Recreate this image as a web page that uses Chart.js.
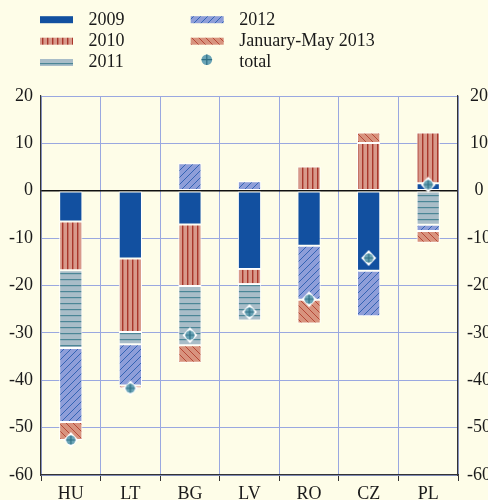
<!DOCTYPE html>
<html>
<head>
<meta charset="utf-8">
<script src="https://cdn.jsdelivr.net/npm/chart.js@4/dist/chart.umd.min.js"></script>
<style>
html,body{margin:0;padding:0;background:#fefde8;}
#wrap{width:488px;height:500px;position:relative;}
</style>
</head>
<body>
<div id="wrap"><canvas id="c" width="488" height="500"></canvas></div>
<script>
const categories = ['HU','LT','BG','LV','RO','CZ','PL'];
const v2009 = [-6.5, -14.3, -7.1, -16.5, -11.6, -16.9, 1.6];
const v2010 = [-10.3, -15.5, -13.0, -3.2, 5.1, 10.1, 10.7];
const v2011 = [-16.4, -2.6, -12.5, -7.7, null, null, -7.2];
const v2012 = [-15.6, -8.7, 5.8, 2.0, -11.4, -9.6, -1.3];
const v2013 = [-3.8, -0.6, -3.7, null, -5.0, 2.2, -2.5];
const vTotal = [-52.6, -41.7, -30.5, -25.6, -22.9, -14.2, 1.3];
const seriesNames = ['2009','2010','2011','2012','January-May 2013','total'];
const yTicks = [20,10,0,-10,-20,-30,-40,-50,-60];

const FONT = "'Liberation Serif', 'DejaVu Serif', serif";

function tile(w,h,draw){
  const c=document.createElement('canvas');c.width=w;c.height=h;
  const g=c.getContext('2d');draw(g,w,h);
  return document.createElement('canvas').getContext('2d').createPattern(c,'repeat');
}
const C2009 = '#1250a0';
const P2010 = tile(5,5,(g,w,h)=>{g.fillStyle='#d8998b';g.fillRect(0,0,w,h);g.fillStyle='#a9362b';g.fillRect(2,0,1.4,h);});
const P2011 = tile(6,6,(g,w,h)=>{g.fillStyle='#a9bdc8';g.fillRect(0,0,w,h);g.fillStyle='#4b8696';g.fillRect(0,3,w,1.2);});
const P2012 = tile(7,7,(g,w,h)=>{g.fillStyle='#8e9ed9';g.fillRect(0,0,w,h);g.strokeStyle='#2a5db0';g.lineWidth=0.9;
  g.beginPath();g.moveTo(-1,8);g.lineTo(8,-1);g.stroke();});
const P2013 = tile(7,7,(g,w,h)=>{g.fillStyle='#d8937e';g.fillRect(0,0,w,h);g.strokeStyle='#b2402f';g.lineWidth=0.9;
  g.beginPath();g.moveTo(-1,-1);g.lineTo(8,8);g.stroke();});

function drawTotalIcon(g,cx,cy,r,withDiamond){
  if(withDiamond){
    g.fillStyle='#ffffff';
    g.beginPath();g.moveTo(cx,cy-8);g.lineTo(cx+7.5,cy);g.lineTo(cx,cy+8);g.lineTo(cx-7.5,cy);g.closePath();g.fill();
  }
  g.fillStyle='#6aa4b6';
  g.beginPath();g.arc(cx,cy,r,0,Math.PI*2);g.fill();
  g.strokeStyle='#2f6f84';g.lineWidth=1.2;
  g.beginPath();g.moveTo(cx-r,cy);g.lineTo(cx+r,cy);g.moveTo(cx,cy-r);g.lineTo(cx,cy+r);g.stroke();
}
const marker = document.createElement('canvas');marker.width=18;marker.height=18;
drawTotalIcon(marker.getContext('2d'),9,9,4.6,true);

const legendPlugin = {
  id:'customLegend',
  afterDraw(chart){
    const g=chart.ctx;g.save();
    const items=[
      {x:40,y:19.7,fill:C2009,label:seriesNames[0]},
      {x:40,y:41.2,fill:P2010,label:seriesNames[1]},
      {x:40,y:62.5,fill:P2011,label:seriesNames[2]},
      {x:190.7,y:19.7,fill:P2012,label:seriesNames[3]},
      {x:190.7,y:41.2,fill:P2013,label:seriesNames[4]},
      {x:190.7,y:62.5,fill:null,label:seriesNames[5]}
    ];
    g.font='18px '+FONT;g.textBaseline='alphabetic';g.textAlign='left';g.fillStyle='#1a1a1a';
    items.forEach((it,i)=>{
      if(it.fill){g.fillStyle=it.fill;g.fillRect(it.x,it.y-3.5,33,7);}
      else drawTotalIcon(g,206.8,59.7,5.3,false);
      g.fillStyle='#1a1a1a';
      g.fillText(it.label,it.x+48.5,it.y+4.8);
    });
    g.restore();
  }
};
const bgPlugin={id:'bg',beforeDraw(chart){const g=chart.ctx;g.save();g.fillStyle='#fefde8';g.fillRect(0,0,chart.width,chart.height);g.restore();}};

function bar(label,data,bg){return {type:'bar',label,data,backgroundColor:bg,borderColor:'#ffffff',borderWidth:1,borderSkipped:false,stack:'s',barPercentage:0.39,categoryPercentage:1};}

new Chart(document.getElementById('c'),{
  data:{labels:categories,datasets:[
    bar(seriesNames[0],v2009,C2009),
    bar(seriesNames[1],v2010,P2010),
    bar(seriesNames[2],v2011,P2011),
    bar(seriesNames[3],v2012,P2012),
    bar(seriesNames[4],v2013,P2013),
    {type:'line',label:seriesNames[5],data:vTotal,showLine:false,pointStyle:marker,pointRadius:9,stack:'t',order:-1}
  ]},
  options:{
    responsive:false,animation:false,
    layout:{padding:{top:96,left:0,right:0,bottom:0}},
    plugins:{legend:{display:false},tooltip:{enabled:false}},
    scales:{
      x:{stacked:true,offset:true,
        grid:{offset:true,color:'#9aa8e0',lineWidth:1,tickColor:'#333',tickLength:6,drawTicks:true},
        border:{color:'#333',width:1.2},
        ticks:{font:{family:FONT,size:18},color:'#1a1a1a',padding:2,maxRotation:0},
        afterFit(s){s.height=25;}
      },
      y:{stacked:true,position:'left',min:-60,max:20,
        afterBuildTicks(s){s.ticks=yTicks.map(v=>({value:v}));},
        grid:{drawTicks:false,color:c=>c.tick&&c.tick.value===0?'#111':'#9aa8e0',lineWidth:c=>c.tick&&c.tick.value===0?1.6:1},
        border:{color:'#333',width:1.2},
        ticks:{font:{family:FONT,size:18},color:'#1a1a1a',padding:8},
        afterFit(s){s.width=41;}
      },
      y2:{position:'right',min:-60,max:20,
        afterBuildTicks(s){s.ticks=yTicks.map(v=>({value:v}));},
        grid:{drawOnChartArea:false,drawTicks:false},
        border:{color:'#333',width:1.2},
        ticks:{font:{family:FONT,size:18},color:'#1a1a1a',padding:9,crossAlign:'center'},
        afterFit(s){s.width=30;}
      }
    }
  },
  plugins:[bgPlugin,legendPlugin]
});
</script>
</body>
</html>
